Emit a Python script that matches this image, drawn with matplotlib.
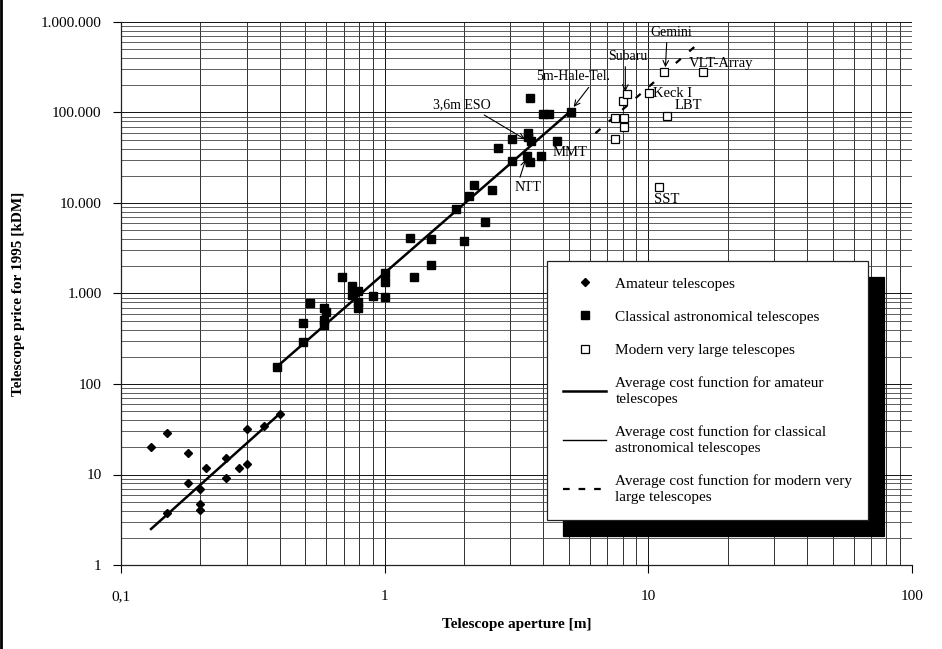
import matplotlib
matplotlib.use('Agg')
import matplotlib.pyplot as plt
from matplotlib.lines import Line2D
from matplotlib.ticker import LogLocator, NullFormatter

plt.rcParams['font.family'] = ['Liberation Serif', 'DejaVu Serif']

# Amateur telescopes (aperture [m], price [kDM])
amateur_d = [0.13, 0.15, 0.18, 0.18, 0.15, 0.21, 0.20, 0.20, 0.20, 0.25, 0.25, 0.28, 0.30, 0.30, 0.35, 0.40]
amateur_p = [20, 29, 17.3, 8.0, 3.8, 11.8, 6.9, 4.7, 4.05, 15.2, 9.2, 11.9, 32, 13.2, 34.4, 47]

# Classical astronomical telescopes
classical_d = [0.39, 0.49, 0.49, 0.52, 0.59, 0.60, 0.59, 0.59, 0.69, 0.75, 0.75, 0.79, 0.79, 0.79,
               0.90, 1.0, 1.0, 1.0, 1.25, 1.29, 1.5, 1.5, 2.0, 1.86, 2.09, 2.19, 2.55, 2.40,
               2.68, 3.04, 3.04, 3.47, 3.57, 3.9, 3.49, 3.49, 3.59, 3.57, 4.0, 4.2, 4.51, 5.07]
classical_p = [155, 290, 470, 780, 690, 630, 510, 450, 1540, 1210, 960, 1070, 810, 690,
               940, 1670, 1350, 910, 4140, 1540, 4040, 2050, 3840, 8650, 11900, 15800, 13800, 6170,
               40500, 50600, 29100, 33000, 28600, 33000, 60000, 54000, 48400, 146000, 95500, 95500, 48800, 101000]

# Modern very large telescopes
modern_d = [7.5, 7.5, 8.1, 8.1, 8.0, 8.3, 10.1, 11.5, 16.1, 11.8, 11.0]
modern_p = [50600, 88000, 88000, 69000, 134000, 160000, 166000, 278000, 282000, 91400, 14900]

# Average cost functions (end points)
fit_amateur_d = [0.13, 0.40]
fit_amateur_p = [2.5, 47]
fit_classical_d = [0.39, 5.1]
fit_classical_p = [155, 105000]
fit_modern_d = [6.3, 16.0]
fit_modern_p = [59000, 630000]

# Tick labels
x_ticks = [0.1, 1, 10, 100]
x_tick_labels = ['0,1', '1', '10', '100']
y_ticks = [1, 10, 100, 1000, 10000, 100000, 1000000]
y_tick_labels = ['1', '10', '100', '1.000', '10.000', '100.000', '1.000.000']

# Labelled telescopes: (text, point, text position, arrow start)
labels = [
    ('3,6m ESO', (3.44, 49700), (1.96, 121000), (0.75, 0.1)),
    ('5m-Hale-Tel.', (5.17, 112000), (5.19, 247000), (0.75, 0.0)),
    ('NTT', (3.44, 31400), (3.50, 14700), (0.15, 1.0)),
    ('Subaru', (8.18, 165000), (8.32, 421000), (0.45, 0.0)),
    ('Gemini', (11.6, 305000), (12.2, 775000), (0.4, 0.0)),
]
plain_labels = [
    ('MMT', (5.05, 35700), 'center'),
    ('Keck I', (10.45, 164000), 'left'),
    ('VLT-Array', (14.2, 352000), 'left'),
    ('LBT', (12.56, 121000), 'left'),
    ('SST', (10.5, 11070), 'left'),
]

fig = plt.figure(figsize=(9.42, 6.49), dpi=100)
ax = fig.add_axes([121 / 942, 1 - 565 / 649, (912 - 121) / 942, (565 - 22) / 649])

ax.set_xscale('log')
ax.set_yscale('log')
ax.set_xlim(0.1, 100)
ax.set_ylim(1, 1e6)

ax.xaxis.set_minor_locator(LogLocator(base=10, subs=range(2, 10)))
ax.yaxis.set_minor_locator(LogLocator(base=10, subs=range(2, 10), numticks=20))
ax.xaxis.set_minor_formatter(NullFormatter())
ax.yaxis.set_minor_formatter(NullFormatter())
ax.set_xticks(x_ticks)
ax.set_xticklabels(x_tick_labels)
ax.set_yticks(y_ticks)
ax.set_yticklabels(y_tick_labels)

ax.grid(True, which='major', color='#111111', lw=0.7)
ax.grid(True, which='minor', axis='x', color='#111111', lw=0.6)
ax.grid(True, which='minor', axis='y', color='#444444', lw=0.6)
ax.set_axisbelow(True)

ax.tick_params(which='major', direction='out', length=6, width=0.8, labelsize=11)
ax.tick_params(which='minor', length=0)
ax.tick_params(axis='x', which='major', pad=12)
ax.tick_params(axis='y', which='major', pad=8)
for s in ['top', 'right']:
    ax.spines[s].set_visible(False)
for s in ['left', 'bottom']:
    ax.spines[s].set_color('#222222')
    ax.spines[s].set_linewidth(0.9)

ax.set_xlabel('Telescope aperture [m]', fontsize=11, fontweight='bold', labelpad=11)
ax.set_ylabel('Telescope price for 1995 [kDM]', fontsize=11, fontweight='bold', labelpad=11)

# data
ax.plot(amateur_d, amateur_p, 'D', color='black', ms=4, zorder=4)
ax.plot(classical_d, classical_p, 's', color='black', ms=6, zorder=4)
ax.plot(modern_d, modern_p, 's', mfc='white', mec='black', mew=0.9, ms=6, zorder=4)

ax.plot(fit_amateur_d, fit_amateur_p, '-', color='black', lw=1.8, zorder=3)
ax.plot(fit_classical_d, fit_classical_p, '-', color='black', lw=1.8, zorder=3)
ax.plot(fit_modern_d, fit_modern_p, color='black', lw=1.6, dashes=(3, 5), zorder=3)

for text, pt, pos, rel in labels:
    ax.annotate(text, xy=pt, xytext=pos, fontsize=10, ha='center', va='center',
                arrowprops=dict(arrowstyle='->', color='black', lw=0.8,
                                relpos=rel, shrinkA=1, shrinkB=1),
                zorder=5)
for text, pos, ha in plain_labels:
    ax.text(pos[0], pos[1], text, fontsize=10.5, ha=ha, va='center', zorder=5)

# legend
handles = [
    Line2D([], [], ls='none', marker='D', color='black', ms=4),
    Line2D([], [], ls='none', marker='s', color='black', ms=6),
    Line2D([], [], ls='none', marker='s', mfc='white', mec='black', mew=0.9, ms=6),
    Line2D([], [], color='black', lw=1.8),
    Line2D([], [], color='black', lw=1.0),
    Line2D([], [], color='black', lw=1.6, dashes=(3, 4)),
]
leg_labels = [
    'Amateur telescopes',
    'Classical astronomical telescopes',
    'Modern very large telescopes',
    'Average cost function for amateur\ntelescopes',
    'Average cost function for classical\nastronomical telescopes',
    'Average cost function for modern very\nlarge telescopes',
]
leg = ax.legend(handles, leg_labels, loc='upper left', bbox_to_anchor=(0.539, 0.56),
                fontsize=11, frameon=True, fancybox=False, framealpha=1,
                edgecolor='#222222', borderpad=1.05, labelspacing=1.27,
                handlelength=2.8, handletextpad=0.6, borderaxespad=0,
                shadow={'ox': 11.5, 'oy': -11.5, 'facecolor': 'black',
                        'edgecolor': 'black', 'alpha': 1})
leg.get_frame().set_linewidth(0.9)
for t in leg.get_texts():
    t.set_linespacing(1.3)
leg.set_zorder(6)

# left border of the figure
fig.add_artist(Line2D([0.0015, 0.0015], [0, 1], transform=fig.transFigure, color='black', lw=2))

fig.savefig('out.png', dpi=100)
